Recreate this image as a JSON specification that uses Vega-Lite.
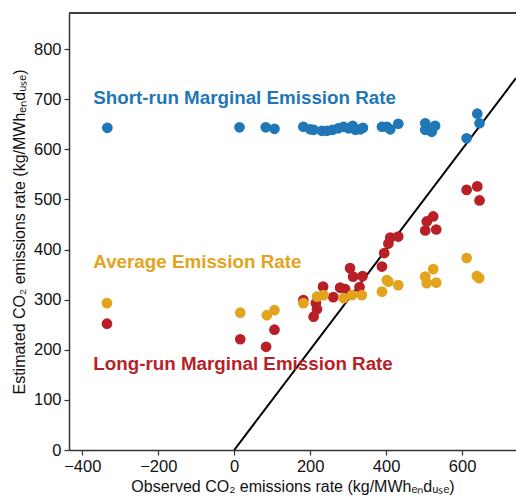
{
  "$schema": "https://vega.github.io/schema/vega-lite/v6.json",
  "width": 447,
  "height": 437,
  "autosize": {"type": "none"},
  "padding": {"left": 69, "top": 13, "right": 0, "bottom": 46},
  "background": "white",
  "config": {
    "view": {"stroke": null},
    "font": "Liberation Sans",
    "axis": {"labelFont": "Liberation Sans", "titleFont": "Liberation Sans", "labelFontSize": 16.5, "titleFontSize": 16, "titleFontWeight": "normal", "labelColor": "#111", "titleColor": "#111", "domainColor": "#333", "tickColor": "#333", "domainWidth": 1.5, "tickWidth": 1.2, "tickSize": 5, "grid": false}
  },
  "datasets": {
    "pts": [
      {"series": "Short-run", "x": -334, "y": 643},
      {"series": "Short-run", "x": 14, "y": 644},
      {"series": "Short-run", "x": 83, "y": 644},
      {"series": "Short-run", "x": 106, "y": 641},
      {"series": "Short-run", "x": 182, "y": 645},
      {"series": "Short-run", "x": 200, "y": 640},
      {"series": "Short-run", "x": 209, "y": 639},
      {"series": "Short-run", "x": 231, "y": 637},
      {"series": "Short-run", "x": 244, "y": 637},
      {"series": "Short-run", "x": 259, "y": 639},
      {"series": "Short-run", "x": 274, "y": 642},
      {"series": "Short-run", "x": 288, "y": 645},
      {"series": "Short-run", "x": 301, "y": 642},
      {"series": "Short-run", "x": 312, "y": 647},
      {"series": "Short-run", "x": 319, "y": 639},
      {"series": "Short-run", "x": 332, "y": 640},
      {"series": "Short-run", "x": 339, "y": 643},
      {"series": "Short-run", "x": 389, "y": 645},
      {"series": "Short-run", "x": 402, "y": 645},
      {"series": "Short-run", "x": 411, "y": 640},
      {"series": "Short-run", "x": 432, "y": 651},
      {"series": "Short-run", "x": 503, "y": 652},
      {"series": "Short-run", "x": 503, "y": 639},
      {"series": "Short-run", "x": 516, "y": 640},
      {"series": "Short-run", "x": 520, "y": 635},
      {"series": "Short-run", "x": 529, "y": 647},
      {"series": "Short-run", "x": 612, "y": 622},
      {"series": "Short-run", "x": 640, "y": 671},
      {"series": "Short-run", "x": 646, "y": 652},
      {"series": "Average", "x": -335, "y": 293},
      {"series": "Average", "x": 16, "y": 274},
      {"series": "Average", "x": 86, "y": 269},
      {"series": "Average", "x": 106, "y": 279},
      {"series": "Average", "x": 182, "y": 293},
      {"series": "Average", "x": 218, "y": 306},
      {"series": "Average", "x": 235, "y": 309},
      {"series": "Average", "x": 288, "y": 303},
      {"series": "Average", "x": 310, "y": 309},
      {"series": "Average", "x": 336, "y": 309},
      {"series": "Average", "x": 389, "y": 316},
      {"series": "Average", "x": 402, "y": 339},
      {"series": "Average", "x": 406, "y": 336},
      {"series": "Average", "x": 432, "y": 329},
      {"series": "Average", "x": 503, "y": 346},
      {"series": "Average", "x": 507, "y": 333},
      {"series": "Average", "x": 524, "y": 361},
      {"series": "Average", "x": 532, "y": 334},
      {"series": "Average", "x": 612, "y": 383},
      {"series": "Average", "x": 639, "y": 347},
      {"series": "Average", "x": 645, "y": 343},
      {"series": "Long-run", "x": -335, "y": 252},
      {"series": "Long-run", "x": 16, "y": 221},
      {"series": "Long-run", "x": 84, "y": 206},
      {"series": "Long-run", "x": 106, "y": 240},
      {"series": "Long-run", "x": 182, "y": 299},
      {"series": "Long-run", "x": 209, "y": 266},
      {"series": "Long-run", "x": 215, "y": 293},
      {"series": "Long-run", "x": 218, "y": 281},
      {"series": "Long-run", "x": 234, "y": 326},
      {"series": "Long-run", "x": 261, "y": 305},
      {"series": "Long-run", "x": 279, "y": 324},
      {"series": "Long-run", "x": 292, "y": 321},
      {"series": "Long-run", "x": 305, "y": 363},
      {"series": "Long-run", "x": 313, "y": 346},
      {"series": "Long-run", "x": 330, "y": 325},
      {"series": "Long-run", "x": 338, "y": 347},
      {"series": "Long-run", "x": 389, "y": 366},
      {"series": "Long-run", "x": 395, "y": 393},
      {"series": "Long-run", "x": 406, "y": 412},
      {"series": "Long-run", "x": 411, "y": 424},
      {"series": "Long-run", "x": 432, "y": 426},
      {"series": "Long-run", "x": 503, "y": 438},
      {"series": "Long-run", "x": 507, "y": 456},
      {"series": "Long-run", "x": 524, "y": 466},
      {"series": "Long-run", "x": 532, "y": 440},
      {"series": "Long-run", "x": 612, "y": 519},
      {"series": "Long-run", "x": 640, "y": 526},
      {"series": "Long-run", "x": 646, "y": 498}
    ],
    "labels": [
      {"series": "Short-run", "x": -371, "y": 703, "text": "Short-run Marginal Emission Rate"},
      {"series": "Average", "x": -371, "y": 375, "text": "Average Emission Rate"},
      {"series": "Long-run", "x": -371, "y": 172, "text": "Long-run Marginal Emission Rate"}
    ],
    "diag": [
      {"x": 0, "y": 0},
      {"x": 742, "y": 742}
    ]
  },
  "layer": [
    {
      "data": {"name": "diag"},
      "mark": {"type": "line", "color": "black", "strokeWidth": 2, "clip": true},
      "encoding": {
        "x": {"field": "x", "type": "quantitative", "scale": {"domain": [-435, 742], "nice": false, "zero": false},
          "axis": {"values": [-400, -200, 0, 200, 400, 600], "title": "Observed CO₂ emissions rate (kg/MWhₑₙdᵤₛₑ)", "titlePadding": 4, "labelPadding": 3}},
        "y": {"field": "y", "type": "quantitative", "scale": {"domain": [0, 872], "nice": false, "zero": false},
          "axis": {"values": [0, 100, 200, 300, 400, 500, 600, 700, 800], "title": "Estimated CO₂ emissions rate (kg/MWhₑₙdᵤₛₑ)", "titlePadding": 6, "labelPadding": 3}}
      }
    },
    {
      "data": {"name": "pts"},
      "mark": {"type": "circle", "size": 115, "opacity": 1},
      "encoding": {
        "x": {"field": "x", "type": "quantitative"},
        "y": {"field": "y", "type": "quantitative"},
        "color": {"field": "series", "type": "nominal", "legend": null,
          "scale": {"domain": ["Short-run", "Average", "Long-run"], "range": ["#1f77b8", "#e2a41c", "#b81f27"]}},
        "order": {"field": "series", "sort": "descending"}
      }
    },
    {
      "data": {"name": "labels"},
      "mark": {"type": "text", "align": "left", "baseline": "middle", "fontSize": 18.8, "fontWeight": "bold", "font": "Liberation Sans"},
      "encoding": {
        "x": {"field": "x", "type": "quantitative"},
        "y": {"field": "y", "type": "quantitative"},
        "text": {"field": "text"},
        "color": {"field": "series", "type": "nominal", "legend": null}
      }
    },
    {
      "data": {"values": [{"x": -435}, {"x": 742}]},
      "mark": {"type": "rule", "color": "#333", "strokeWidth": 1.5},
      "encoding": {
        "y": {"datum": 872, "type": "quantitative"}
      }
    }
  ]
}
